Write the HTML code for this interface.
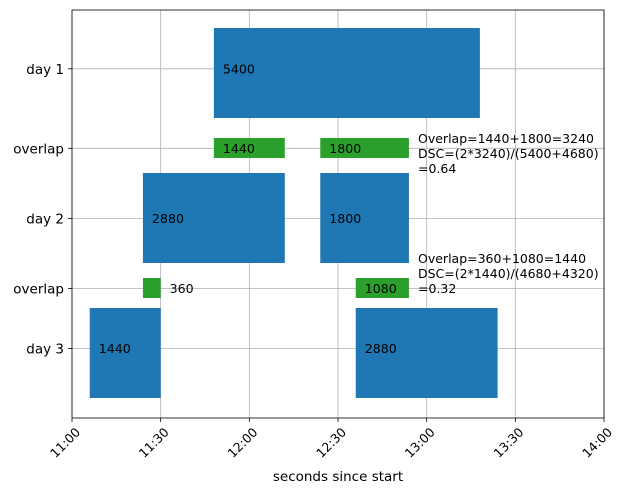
<!DOCTYPE html>
<html><head><meta charset="utf-8"><style>
body{margin:0;background:#fff;font-family:"Liberation Sans","DejaVu Sans",sans-serif}
svg text{font-family:"DejaVu Sans","Liberation Sans",sans-serif}
</style></head><body>
<svg id="chart" width="633" height="494" xmlns="http://www.w3.org/2000/svg"></svg>
<script>
const rowLabels = ["day 1","overlap","day 2","overlap","day 3"];
const rowTicks = [5.88, 13.83, 20.85, 27.85, 33.85];
const rowBarCenters = [6.3, 13.8, 20.8, 27.8, 34.3];
const rowHeights = [9, 2, 9, 2, 9];
const barRow = [0, 1, 1, 2, 2, 3, 3, 4, 4];
const barStart = [2880, 2880, 5040, 1440, 5040, 1440, 5760, 360, 5760];
const barWidth = [5400, 1440, 1800, 2880, 1800, 360, 1080, 1440, 2880];
const barKind = ["day","overlap","overlap","day","day","overlap","overlap","day","day"];
const xTicks = [0, 1800, 3600, 5400, 7200, 9000, 10800];
const xTickLabels = ["11:00","11:30","12:00","12:30","13:00","13:30","14:00"];
const notes = [
 ["Overlap=1440+1800=3240","DSC=(2*3240)/(5400+4680)","=0.64"],
 ["Overlap=360+1080=1440","DSC=(2*1440)/(4680+4320)","=0.32"]
];
const noteBaseline = [13.3, 25.3];

const L=72,R=604,T=10,B=418;
const xs=v=>L+v/10800*(R-L);
const ys=v=>T+v/40.8*(B-T);
const svg=document.getElementById('chart');
const NS='http://www.w3.org/2000/svg';
function mk(tag,attrs,parent){const e=document.createElementNS(NS,tag);for(const k in attrs)e.setAttribute(k,attrs[k]);(parent||svg).appendChild(e);return e;}

xTicks.forEach((t,i)=>{
 const g=mk('line',{x1:xs(t),x2:xs(t),y1:T,y2:B,stroke:'#b0b0b0','stroke-width':0.8});
 
 
});
rowTicks.forEach((c,i)=>{
 const g=mk('line',{x1:L,x2:R,y1:ys(c),y2:ys(c),stroke:'#b0b0b0','stroke-width':0.8});
 
 
});
barStart.forEach((s,i)=>{
 const r=barRow[i],h=rowHeights[r],c=rowBarCenters[r];
 const x0=xs(s),x1=xs(s+barWidth[i]);
 const b=mk('rect',{x:x0,y:ys(c-h/2),width:x1-x0,height:ys(c+h/2)-ys(c-h/2),fill:barKind[i]==='day'?'#1f77b4':'#2ca02c'});
 
 
 const inside=(x1-x0)>30;
 const t=mk('text',{x:inside?x0+9:x1+9,y:ys(rowTicks[r])+4.5,'font-size':12.6,fill:'#000'});
 t.textContent=barWidth[i];
 
 
});
notes.forEach((lines,i)=>{
 const c=ys(noteBaseline[i]);
 lines.forEach((ln,j)=>{
  const t=mk('text',{x:418,y:c+j*15,'font-size':12.5,fill:'#000'});
  t.textContent=ln;
  
  
 });
});
const f=mk('rect',{x:L,y:T,width:R-L,height:B-T,fill:'none',stroke:'#000','stroke-width':0.8});


xTicks.forEach((t,i)=>{
 const x=xs(t);
 mk('line',{x1:x,x2:x,y1:B,y2:B+4,stroke:'#000','stroke-width':0.8});
 const ax=x+9, ay=B+15;
 const tx=mk('text',{x:ax,y:ay,'font-size':12.5,'text-anchor':'end',transform:`rotate(-45 ${ax} ${ay})`,fill:'#000'});
 tx.textContent=xTickLabels[i];
 
 
});
rowTicks.forEach((c,i)=>{
 const y=ys(c);
 mk('line',{x1:L-4,x2:L,y1:y,y2:y,stroke:'#000','stroke-width':0.8});
 const tx=mk('text',{x:L-8,y:y+5,'font-size':13.5,'text-anchor':'end',fill:'#000'});
 tx.textContent=rowLabels[i];
 
 
});
const xl=mk('text',{x:(L+R)/2,y:481,'font-size':13.5,'text-anchor':'middle',fill:'#000'});
xl.textContent='seconds since start';


</script>
</body></html>
